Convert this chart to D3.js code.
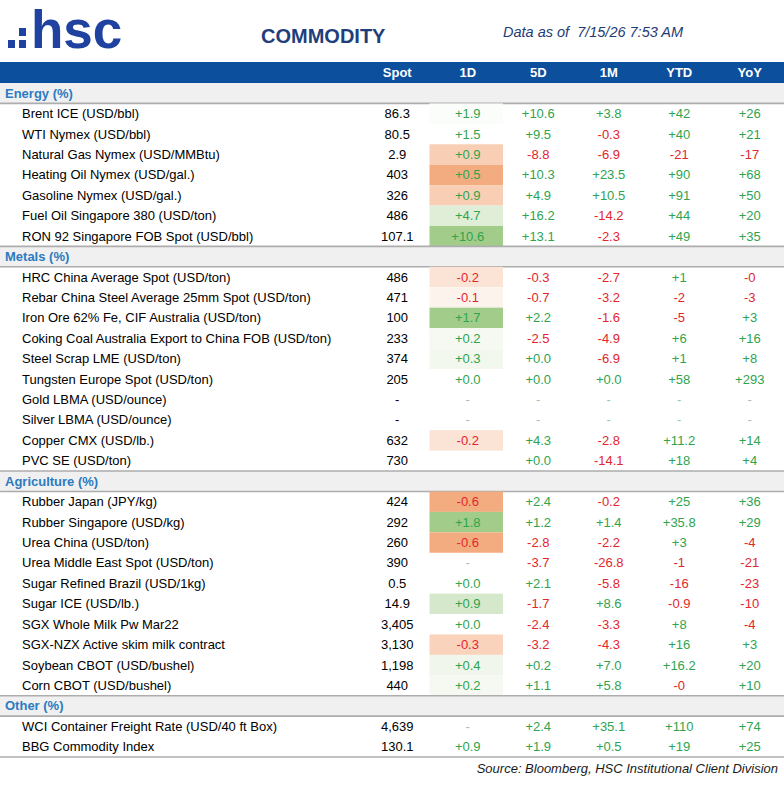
<!DOCTYPE html>
<html>
<head>
<meta charset="utf-8">
<script src="https://cdn.jsdelivr.net/npm/d3@7"></script>
<style>
  body { margin: 0; background: #fff; }
  text { font-family: "Liberation Sans", Arial, sans-serif; }
</style>
</head>
<body>
<svg id="chart" width="784" height="800"></svg>
<script>
// Column headers and section titles.
let columns = ['Spot', '1D', '5D', '1M', 'YTD', 'YoY'];
let sectionNames = ['Energy (%)', 'Metals (%)', 'Agriculture (%)', 'Other (%)'];

// One entry per commodity, in display order.
let itemSection = [0, 0, 0, 0, 0, 0, 0,
                   1, 1, 1, 1, 1, 1, 1, 1, 1, 1,
                   2, 2, 2, 2, 2, 2, 2, 2, 2, 2,
                   3, 3];
let itemNames = [
  'Brent ICE (USD/bbl)',
  'WTI Nymex (USD/bbl)',
  'Natural Gas Nymex (USD/MMBtu)',
  'Heating Oil Nymex (USD/gal.)',
  'Gasoline Nymex (USD/gal.)',
  'Fuel Oil Singapore 380 (USD/ton)',
  'RON 92 Singapore FOB Spot (USD/bbl)',
  'HRC China Average Spot (USD/ton)',
  'Rebar China Steel Average 25mm Spot (USD/ton)',
  'Iron Ore 62% Fe, CIF Australia (USD/ton)',
  'Coking Coal Australia Export to China FOB (USD/ton)',
  'Steel Scrap LME (USD/ton)',
  'Tungsten Europe Spot (USD/ton)',
  'Gold LBMA (USD/ounce)',
  'Silver LBMA (USD/ounce)',
  'Copper CMX (USD/lb.)',
  'PVC SE (USD/ton)',
  'Rubber Japan (JPY/kg)',
  'Rubber Singapore (USD/kg)',
  'Urea China (USD/ton)',
  'Urea Middle East Spot (USD/ton)',
  'Sugar Refined Brazil (USD/1kg)',
  'Sugar ICE (USD/lb.)',
  'SGX Whole Milk Pw Mar22',
  'SGX-NZX Active skim milk contract',
  'Soybean CBOT (USD/bushel)',
  'Corn CBOT (USD/bushel)',
  'WCI Container Freight Rate (USD/40 ft Box)',
  'BBG Commodity Index',
];
let spot = ['86.3', '80.5', '2.9', '403', '326', '486', '107.1',
            '486', '471', '100', '233', '374', '205', '-', '-', '632', '730',
            '424', '292', '260', '390', '0.5', '14.9', '3,405', '3,130', '1,198', '440',
            '4,639', '130.1'];
let chg1D = ['+1.9', '+1.5', '+0.9', '+0.5', '+0.9', '+4.7', '+10.6',
             '-0.2', '-0.1', '+1.7', '+0.2', '+0.3', '+0.0', '-', '-', '-0.2', '',
             '-0.6', '+1.8', '-0.6', '-', '+0.0', '+0.9', '+0.0', '-0.3', '+0.4', '+0.2',
             '-', '+0.9'];
let chg5D = ['+10.6', '+9.5', '-8.8', '+10.3', '+4.9', '+16.2', '+13.1',
             '-0.3', '-0.7', '+2.2', '-2.5', '+0.0', '+0.0', '-', '-', '+4.3', '+0.0',
             '+2.4', '+1.2', '-2.8', '-3.7', '+2.1', '-1.7', '-2.4', '-3.2', '+0.2', '+1.1',
             '+2.4', '+1.9'];
let chg1M = ['+3.8', '-0.3', '-6.9', '+23.5', '+10.5', '-14.2', '-2.3',
             '-2.7', '-3.2', '-1.6', '-4.9', '-6.9', '+0.0', '-', '-', '-2.8', '-14.1',
             '-0.2', '+1.4', '-2.2', '-26.8', '-5.8', '+8.6', '-3.3', '-4.3', '+7.0', '+5.8',
             '+35.1', '+0.5'];
let chgYTD = ['+42', '+40', '-21', '+90', '+91', '+44', '+49',
              '+1', '-2', '-5', '+6', '+1', '+58', '-', '-', '+11.2', '+18',
              '+25', '+35.8', '+3', '-1', '-16', '-0.9', '+8', '+16', '+16.2', '-0',
              '+110', '+19'];
let chgYoY = ['+26', '+21', '-17', '+68', '+50', '+20', '+35',
              '-0', '-3', '+3', '+16', '+8', '+293', '-', '-', '+14', '+4',
              '+36', '+29', '-4', '-21', '-23', '-10', '-4', '+3', '+20', '+10',
              '+74', '+25'];
// Heat of the 1D move (negative = orange, positive = green).
let heat1D = [0.04, 0, -0.5, -0.85, -0.5, 0.3, 0.9,
              -0.28, -0.12, 0.9, 0.1, 0.12, 0, 0, 0, -0.28, 0,
              -0.85, 0.9, -0.85, 0, 0, 0.4, 0, -0.45, 0.15, 0.1,
              0, 0];

let colValues = [spot, chg1D, chg5D, chg1M, chgYTD, chgYoY];

let width = 784;
let headerTop = 62;
let headerHeight = 21;
let tableBottom = 757;

let darkBlue = '#0c4f9c';
let logoBlue = '#1f41a0';
let green = '#2fa44f';
let red = '#e2262c';

let svg = d3.select('#chart');

// Logo, title and timestamp.
let logo = svg.append('g').attr('class', 'logo').attr('fill', logoBlue);
[[8, 40], [19, 28], [19, 40]].forEach(p => {
  logo.append('rect').attr('x', p[0]).attr('y', p[1]).attr('width', 7).attr('height', 8);
});
logo.append('text')
    .attr('x', 31)
    .attr('y', 48)
    .attr('font-size', 53)
    .attr('font-weight', 'bold')
    .text('hsc');

svg.append('text')
    .attr('x', 261)
    .attr('y', 43)
    .attr('font-size', 20)
    .attr('font-weight', 'bold')
    .attr('fill', '#1e3f7c')
    .text('COMMODITY');

svg.append('text')
    .attr('x', 503)
    .attr('y', 37)
    .attr('font-size', 14.5)
    .attr('font-style', 'italic')
    .attr('fill', '#1f3c75')
    .style('white-space', 'pre')
    .text('Data as of  7/15/26 7:53 AM');

// Scales: columns across, rows down.
let x = d3.scaleBand().domain(columns).range([362, 785]);

let rows = [];
sectionNames.forEach((s, si) => {
  rows.push({type: 'section', name: s});
  itemNames.forEach((n, i) => {
    if (itemSection[i] === si) rows.push({type: 'item', i: i});
  });
});
let y = d3.scaleBand().domain(d3.range(rows.length)).range([headerTop + headerHeight, tableBottom]);

// Header bar.
svg.append('rect')
    .attr('x', 0)
    .attr('y', headerTop)
    .attr('width', width)
    .attr('height', headerHeight)
    .attr('fill', darkBlue);
svg.selectAll('text.colHead')
    .data(columns)
    .join('text')
    .attr('class', 'colHead')
    .attr('x', c => x(c) + x.bandwidth() / 2)
    .attr('y', headerTop + headerHeight / 2 + 4.5)
    .attr('text-anchor', 'middle')
    .attr('font-size', 13)
    .attr('font-weight', 'bold')
    .attr('fill', '#fff')
    .text(c => c);

let rowG = svg.selectAll('g.row')
    .data(rows)
    .join('g')
    .attr('class', d => 'row ' + d.type)
    .attr('transform', (d, i) => 'translate(0,' + y(i) + ')');

// Section rows: grey band with rules above and below.
let sec = rowG.filter(d => d.type === 'section');
sec.append('rect')
    .attr('x', 0)
    .attr('width', width)
    .attr('height', y.bandwidth())
    .attr('fill', '#f0f0f0');
sec.filter((d, i) => i > 0).append('line')
    .attr('x1', 0).attr('x2', width)
    .attr('y1', 0).attr('y2', 0)
    .attr('stroke', '#adadad')
    .attr('stroke-width', 1.6);
sec.append('line')
    .attr('x1', 0).attr('x2', width)
    .attr('y1', y.bandwidth()).attr('y2', y.bandwidth())
    .attr('stroke', '#adadad')
    .attr('stroke-width', 1.6);
sec.append('text')
    .attr('x', 5)
    .attr('y', y.bandwidth() / 2 + 4.5)
    .attr('font-size', 13)
    .attr('font-weight', 'bold')
    .attr('fill', '#2b7bc1')
    .text(d => d.name);

// Item rows.
let heatColor = d3.scaleLinear()
    .domain([-1, 0, 1])
    .range(['#f19d69', '#ffffff', '#98c67c']);

let items = rowG.filter(d => d.type === 'item');
items.filter(d => heat1D[d.i] !== 0)
    .append('rect')
    .attr('x', x('1D') - 3)
    .attr('width', x.bandwidth() + 3)
    .attr('height', y.bandwidth())
    .attr('fill', d => heatColor(heat1D[d.i]));

items.append('text')
    .attr('x', 22)
    .attr('y', y.bandwidth() / 2 + 4.5)
    .attr('font-size', 13)
    .attr('fill', '#000')
    .text(d => itemNames[d.i]);

let valueColor = (s, col) => {
  if (col === 0) return '#000';
  if (s === '-') return '#a3c4ab';
  return s.startsWith('-') ? red : green;
};

items.selectAll('text.val')
    .data(d => columns.map((c, ci) => ({col: c, ci: ci, v: colValues[ci][d.i]})))
    .join('text')
    .attr('class', 'val')
    .attr('x', d => x(d.col) + x.bandwidth() / 2)
    .attr('y', y.bandwidth() / 2 + 4.5)
    .attr('text-anchor', 'middle')
    .attr('font-size', 13)
    .attr('fill', d => valueColor(d.v, d.ci))
    .text(d => d.v);

// Closing rule and source line.
svg.append('line')
    .attr('x1', 0).attr('x2', width)
    .attr('y1', tableBottom).attr('y2', tableBottom)
    .attr('stroke', '#adadad')
    .attr('stroke-width', 1.6);

svg.append('text')
    .attr('x', 778)
    .attr('y', 773)
    .attr('text-anchor', 'end')
    .attr('font-size', 13)
    .attr('font-style', 'italic')
    .attr('fill', '#1a1a1a')
    .text('Source: Bloomberg, HSC Institutional Client Division');
</script>
</body>
</html>
